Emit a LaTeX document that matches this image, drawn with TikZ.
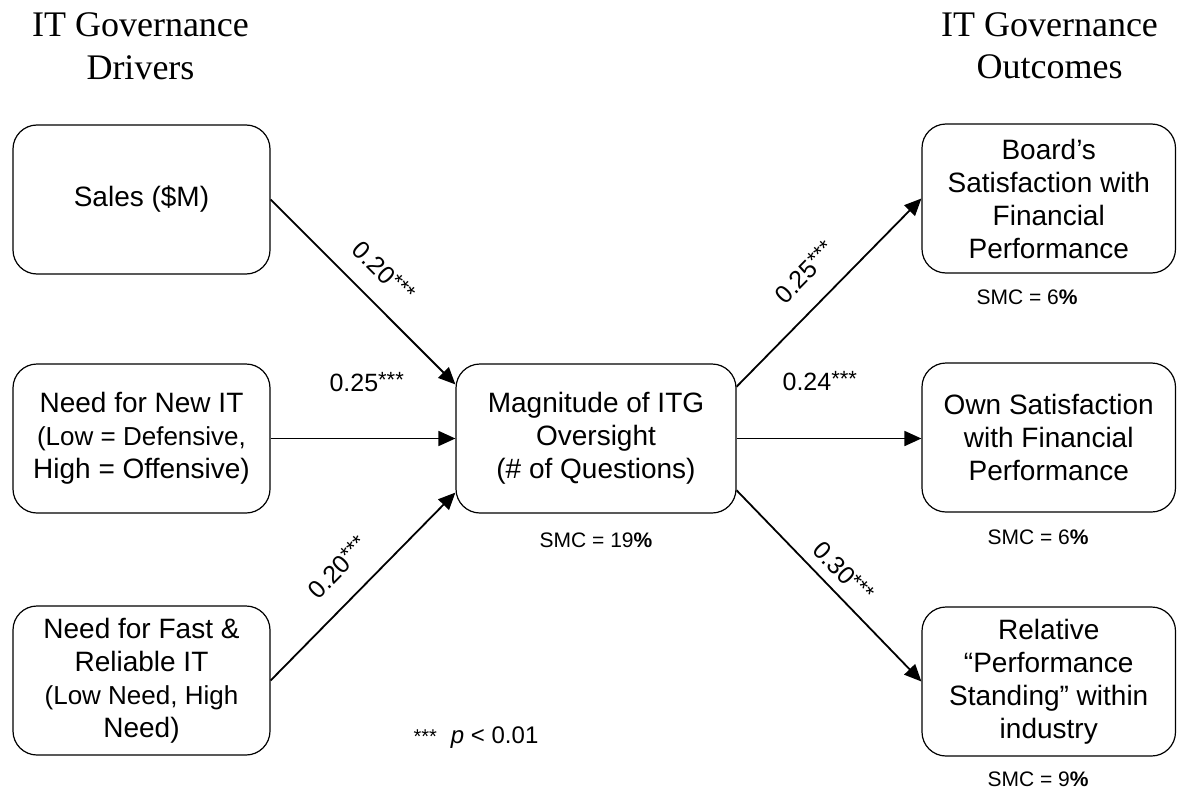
\documentclass[tikz,border=0pt]{standalone}
\usepackage{fontspec}
\setmainfont{Liberation Sans}
\newfontfamily\titlefont{Liberation Serif}
\usetikzlibrary{arrows.meta,calc}
\newcommand\mystars{\raisebox{4pt}{\fontsize{22}{24}\selectfont ***}}
\begin{document}
\begin{tikzpicture}[x=1pt,y=-1pt,
  box/.style={draw, line width=1.2pt, rounded corners=24pt, align=center, inner sep=0pt,
    minimum height=149pt, font=\fontsize{28}{33}\selectfont},
  lbox/.style={box, minimum width=257pt},
  mbox/.style={box, minimum width=280pt},
  rbox/.style={box, minimum width=253.5pt},
  arr/.style={-{Triangle[length=17pt,width=15pt]}, line width=1.8pt},
  coef/.style={font=\fontsize{25}{28}\selectfont, inner sep=2pt},
  smc/.style={font=\fontsize{21}{25}\selectfont, inner sep=0pt},
  ttl/.style={font=\titlefont\fontsize{36}{43}\selectfont, anchor=base, inner sep=0pt}]
\useasboundingbox (0,0) rectangle (1177,789);
% titles
\node[ttl] (t1a) at (140.5,37) {IT Governance};
\node[ttl] (t1b) at (140.5,80) {Drivers};
\node[ttl] (t2a) at (1049.5,37) {IT Governance};
\node[ttl] (t2b) at (1049.5,79) {Outcomes};
% boxes
\node[lbox] (sales) at (141.5,199.5) {Sales (\$M)};
\node[lbox] (newit) at (141.5,438.5) {Need for New IT\\\fontsize{26}{33}\selectfont(Low = Defensive,\\High = Offensive)};
\node[lbox] (fast) at (141.5,680.5) {Need for Fast \&\\Reliable IT\\\fontsize{26}{33}\selectfont(Low Need, High\\Need)};
\node[mbox] (mid) at (596,438.5) {Magnitude of ITG\\Oversight\\(\# of Questions)};
\node[rbox] (board) at (1048.75,198.5) {Board’s\\Satisfaction with\\Financial\\Performance};
\node[rbox] (own) at (1048.75,437.5) {Own Satisfaction\\with Financial\\Performance};
\node[rbox] (rel) at (1048.75,681.5) {Relative\\“Performance\\Standing” within\\industry};
% SMC labels
\node[smc] (smcmid) at (596,540) {SMC = 19\textbf{\%}};
\node[smc] (smcboard) at (1027,297) {SMC = 6\textbf{\%}};
\node[smc] (smcown) at (1038,537) {SMC = 6\textbf{\%}};
\node[smc] (smcrel) at (1038,779) {SMC = 9\textbf{\%}};
\node[font=\fontsize{24}{28}\selectfont, inner sep=0pt] (pval) at (476,738) {{\fontsize{20}{24}\selectfont ***}\hspace{14pt}\textit{p} < 0.01};
% connector end points
\coordinate (midA) at ($(mid.north west)!0.14!(mid.south west)$);
\coordinate (midC) at ($(mid.south west)!0.14!(mid.north west)$);
\coordinate (midD) at ($(mid.north east)!0.155!(mid.south east)$);
\coordinate (midF) at ($(mid.south east)!0.155!(mid.north east)$);
% arrows
\draw[arr] (sales.east) -- node[coef, sloped, pos=0.5, above=17pt] {0.20\mystars} (midA);
\draw[arr] (newit.east) -- node[coef, pos=0.52, above=44pt] {0.25\mystars} (mid.west);
\draw[arr] (fast.east) -- node[coef, sloped, pos=0.485, above=19pt] {0.20\mystars} (midC);
\draw[arr] (midD) -- node[coef, sloped, pos=0.49, above=19pt] {0.25\mystars} (board.west);
\draw[arr] (mid.east) -- node[coef, pos=0.45, above=45pt] {0.24\mystars} (mid.east -| own.west);
\draw[arr] (midF) -- node[coef, sloped, pos=0.5, above=8pt] {0.30\mystars} (rel.west);
\end{tikzpicture}
\end{document}
